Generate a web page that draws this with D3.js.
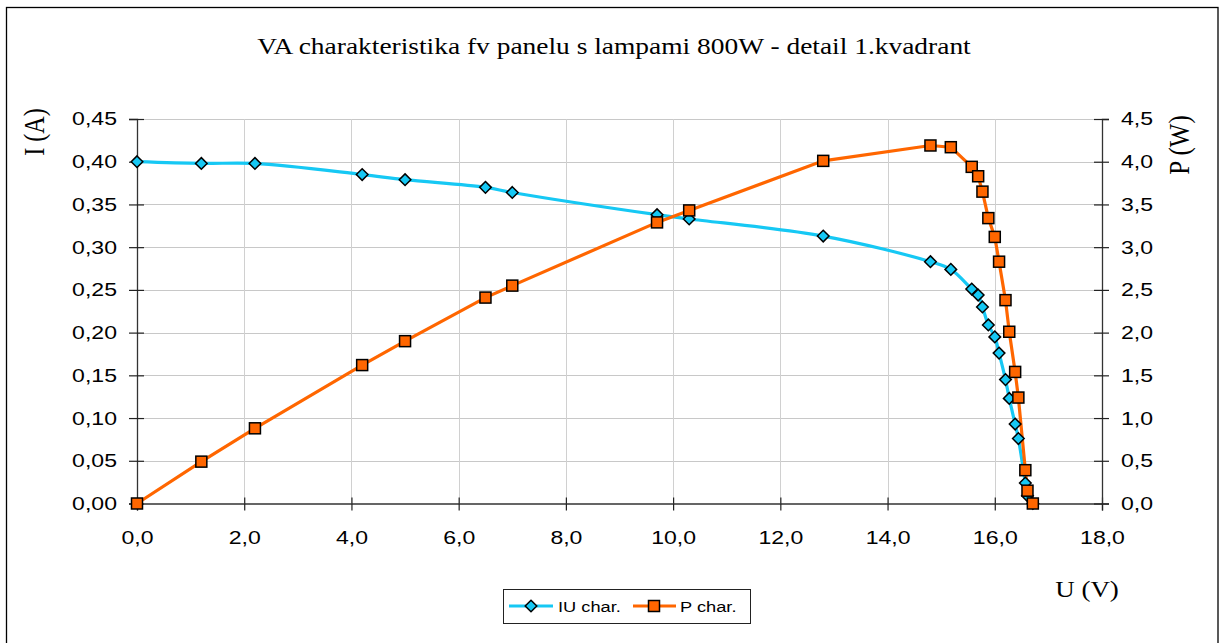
<!DOCTYPE html>
<html><head><meta charset="utf-8">
<script src="https://cdn.jsdelivr.net/npm/d3@7"></script>
<style>body{margin:0;background:#fff}svg{display:block}</style>
</head><body>
<script>
const uValues = [0.0, 1.2, 2.2, 4.2, 5.0, 6.5, 7.0, 9.7, 10.3, 12.8, 14.8, 15.18, 15.57, 15.69, 15.77, 15.88, 16.0, 16.08, 16.2, 16.27, 16.38, 16.44, 16.57, 16.61, 16.71];
const iValues = [0.400, 0.398, 0.398, 0.385, 0.379, 0.370, 0.364, 0.338, 0.333, 0.313, 0.283, 0.274, 0.251, 0.244, 0.230, 0.209, 0.195, 0.176, 0.145, 0.123, 0.093, 0.076, 0.024, 0.009, 0.0];
const pValues = [0.0, 0.49, 0.88, 1.62, 1.90, 2.41, 2.55, 3.29, 3.43, 4.01, 4.19, 4.17, 3.94, 3.83, 3.65, 3.34, 3.12, 2.83, 2.38, 2.01, 1.54, 1.24, 0.39, 0.15, 0.0];
const xTicks = [0, 2, 4, 6, 8, 10, 12, 14, 16, 18];
const yTicks = [0, 0.05, 0.10, 0.15, 0.20, 0.25, 0.30, 0.35, 0.40, 0.45];
const y2Ticks = [0, 0.5, 1.0, 1.5, 2.0, 2.5, 3.0, 3.5, 4.0, 4.5];
const titleText = "VA charakteristika fv panelu s lampami 800W - detail 1.kvadrant";
const seriesNames = ["IU char.", "P char."];

const W = 1221, H = 643;
const SX = 1.24; // horizontal text stretch of the reference
const sans = "Liberation Sans, Arial, sans-serif";
const serif = "Liberation Serif, Times New Roman, serif";
const svg = d3.select("body").append("svg").attr("width", W).attr("height", H);
svg.append("rect").attr("x", 6.5).attr("y", 7.5).attr("width", 1211.5).attr("height", 660)
  .attr("fill", "none").attr("stroke", "#000").attr("stroke-width", 1.3);

const x = d3.scaleLinear().domain([0, 18]).range([137, 1102]);
const y = d3.scaleLinear().domain([0, 0.45]).range([503.5, 119]);
const y2 = d3.scaleLinear().domain([0, 4.5]).range([503.5, 119]);
const comma = (d, n) => d.toFixed(n).replace(".", ",");

function stretch(sel, s) {
  sel.each(function () {
    const t = d3.select(this);
    const tx = +t.attr("x") || 0, ty = +t.attr("y") || 0;
    t.attr("x", 0).attr("y", 0).attr("transform", `translate(${tx},${ty}) scale(${s},1)`);
  });
}

// gridlines
const g = svg.append("g");
g.selectAll(".hg").data(yTicks.slice(1)).join("line")
  .attr("x1", x(0)).attr("x2", x(18)).attr("y1", d => Math.round(y(d)) + 0.5).attr("y2", d => Math.round(y(d)) + 0.5)
  .attr("stroke", "#c8c8c8").attr("stroke-width", 1);
g.selectAll(".vg").data(xTicks.slice(1, -1)).join("line")
  .attr("y1", y(0.45)).attr("y2", y(0)).attr("x1", d => Math.round(x(d)) + 0.5).attr("x2", d => Math.round(x(d)) + 0.5)
  .attr("stroke", "#d0d0d0").attr("stroke-width", 1);

// axes
const axL = svg.append("g").attr("transform", `translate(${x(0)},0)`)
  .call(d3.axisLeft(y).tickValues(yTicks).tickFormat(d => comma(d, 2)).tickSize(8).tickPadding(12));
const axB = svg.append("g").attr("transform", `translate(0,${y(0)})`)
  .call(d3.axisBottom(x).tickValues(xTicks).tickFormat(d => comma(d, 1)).tickSize(7).tickPadding(20));
const axR = svg.append("g").attr("transform", `translate(${x(18)},0)`)
  .call(d3.axisRight(y2).tickValues(y2Ticks).tickFormat(d => comma(d, 1)).tickSize(7).tickPadding(12));
[axL, axB, axR].forEach(a => {
  a.select(".domain").attr("stroke", "#333").attr("stroke-width", 1.3);
  a.selectAll(".tick line").attr("stroke", "#222").attr("stroke-width", 1.2);
  a.selectAll("text").attr("font-family", sans).attr("font-size", 18.6).attr("fill", "#000");
  stretch(a.selectAll("text"), SX);
});
axL.selectAll(".tick").append("line").attr("x1", 0).attr("x2", 7).attr("stroke", "#222").attr("stroke-width", 1.2);
axB.selectAll(".tick").append("line").attr("y1", 0).attr("y2", -6).attr("stroke", "#222").attr("stroke-width", 1.2);
axR.selectAll(".tick").append("line").attr("x1", 0).attr("x2", -8).attr("stroke", "#222").attr("stroke-width", 1.2);

// series
const idx = d3.range(uValues.length);
const lineI = d3.line().x(i => x(uValues[i])).y(i => y(iValues[i])).curve(d3.curveCatmullRom.alpha(0.5));
const lineP = d3.line().x(i => x(uValues[i])).y(i => y2(pValues[i]));
const blue = "#16c8f4", orange = "#ff6600";
svg.append("path").attr("d", lineI(idx)).attr("fill", "none").attr("stroke", blue).attr("stroke-width", 3.2);
svg.append("path").attr("d", lineP(idx)).attr("fill", "none").attr("stroke", orange).attr("stroke-width", 3.2);

function drawDiamond(sel, cx, cy) {
  const s = 5.8;
  sel.append("path").attr("d", `M${cx},${cy - s}L${cx + s},${cy}L${cx},${cy + s}L${cx - s},${cy}Z`)
    .attr("fill", blue).attr("stroke", "#000").attr("stroke-width", 1.5);
}
function drawSquare(sel, cx, cy) {
  const s = 5.5;
  sel.append("rect").attr("x", cx - s).attr("y", cy - s).attr("width", 2 * s).attr("height", 2 * s)
    .attr("fill", orange).attr("stroke", "#000").attr("stroke-width", 1.5);
}
const mI = svg.append("g");
idx.forEach(i => drawDiamond(mI, x(uValues[i]), y(iValues[i])));
const mP = svg.append("g");
idx.forEach(i => drawSquare(mP, x(uValues[i]), y2(pValues[i])));

// titles
const tt = svg.append("text").attr("x", 614).attr("y", 54).attr("text-anchor", "middle")
  .attr("font-family", serif).attr("font-size", 22.5).text(titleText);
stretch(tt, 1.22);
svg.append("text").attr("transform", "translate(44,132) rotate(-90) scale(1,1.2)").attr("text-anchor", "middle")
  .attr("font-family", serif).attr("font-size", 24).text("I (A)");
svg.append("text").attr("transform", "translate(1189,145) rotate(-90) scale(1,1.2)").attr("text-anchor", "middle")
  .attr("font-family", serif).attr("font-size", 25).text("P (W)");
const ut = svg.append("text").attr("x", 1087).attr("y", 597).attr("text-anchor", "middle")
  .attr("font-family", serif).attr("font-size", 22.5).text("U (V)");
stretch(ut, 1.2);

// legend
const lg = svg.append("g");
lg.append("rect").attr("x", 503.5).attr("y", 589.5).attr("width", 247).attr("height", 34)
  .attr("fill", "#fff").attr("stroke", "#222").attr("stroke-width", 1);
lg.append("line").attr("x1", 509).attr("x2", 553).attr("y1", 606).attr("y2", 606).attr("stroke", blue).attr("stroke-width", 3);
drawDiamond(lg, 531, 606);
const l1 = lg.append("text").attr("x", 558).attr("y", 612).attr("font-family", sans).attr("font-size", 14.5).text(seriesNames[0]);
stretch(l1, 1.26);
lg.append("line").attr("x1", 633).attr("x2", 676).attr("y1", 606).attr("y2", 606).attr("stroke", orange).attr("stroke-width", 3);
drawSquare(lg, 654, 606);
const l2 = lg.append("text").attr("x", 680).attr("y", 612).attr("font-family", sans).attr("font-size", 14.5).text(seriesNames[1]);
stretch(l2, 1.26);
</script>
</body></html>
